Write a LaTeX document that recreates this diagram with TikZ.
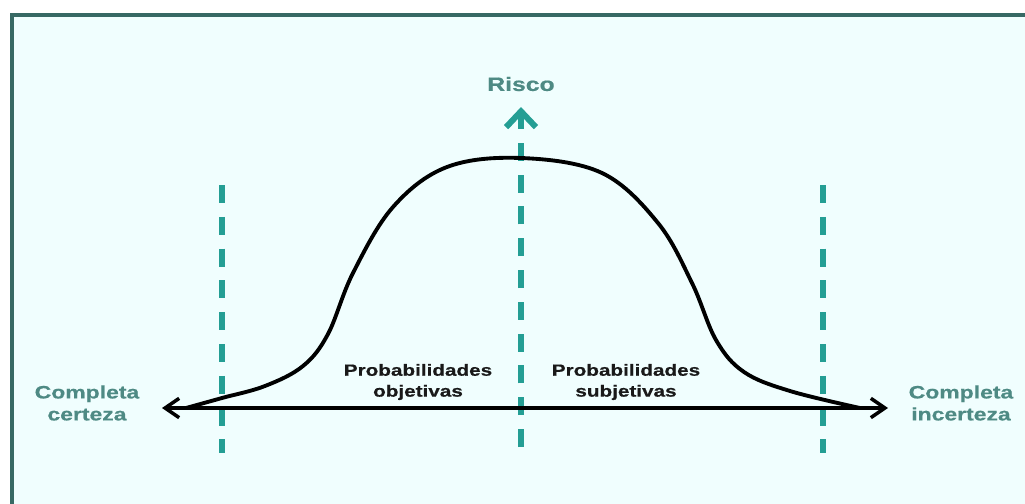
\documentclass[tikz,border=0pt]{standalone}
\usepackage{fontspec}
\usepackage{tikz}
\usetikzlibrary{arrows.meta}
\newfontfamily\riskfont[FakeStretch=1.28, FakeBold=0.6]{Liberation Sans}
\definecolor{frameclr} {RGB}{55, 105, 100}
\definecolor{paneclr}  {RGB}{240, 254, 254}
\definecolor{dashclr}  {RGB}{36, 158, 148}
\definecolor{labelclr} {RGB}{78, 138, 132}
\definecolor{darktext} {RGB}{25,  25,  25}

\begin{document}
\begin{tikzpicture}[x=0.02cm, y=-0.02cm,
    divider/.style={dashclr, line width=3.4pt, dash pattern=on 10.2pt off 7.9pt},
    endlabel/.style={labelclr, align=center, font=\riskfont\bfseries\fontsize{10.2}{12.5}\selectfont},
    zonelabel/.style={darktext, align=center, font=\riskfont\bfseries\fontsize{9.2}{11.9}\selectfont}]
  % page and frame
  \useasboundingbox (0,0) rectangle (1025,504);
  \fill[white] (0,0) rectangle (1025,504);
  \clip (0,0) rectangle (1025,504);
  \draw[frameclr, line width=2.2pt, fill=paneclr] (12,15) rectangle (1060,540);
  % axis ends
  \coordinate (certain) at (162,408);
  \coordinate (uncertain) at (888,408);
  \coordinate (riskbase) at (521,447);
  \coordinate (risktip) at (521,107);
  % dashed dividers
  \draw[divider] (222,185) -- (222,453);
  \draw[divider] (823,185) -- (823,453);
  \draw[divider, -{Straight Barb[length=9pt, width=17pt, line width=3.4pt]}]
    (riskbase) -- (risktip);
  % risk curve
  \draw[black, line width=2.2pt, line cap=round]
    plot[smooth, tension=0.6] coordinates {
      (186,408) (222,398) (265,386) (303,366) (328,334) (353,273)
      (393,207) (447,167) (521,158) (602,173) (658,223) (692,283)
      (716,340) (744,372) (790,391) (860,408)};
  % horizontal axis
  \draw[black, line width=2pt, {Straight Barb[length=8pt, width=11pt]}-{Straight Barb[length=8pt, width=11pt]}]
    (certain) -- (uncertain);
  % labels
  \node[endlabel, font=\riskfont\bfseries\fontsize{11}{13}\selectfont] (risk) at (521,84) {Risco};
  \node[endlabel] (certainlbl) at (87,403) {Completa\\certeza};
  \node[endlabel] (uncertainlbl) at (961,403) {Completa\\incerteza};
  \node[zonelabel] (objective) at (418,382) {Probabilidades\\objetivas};
  \node[zonelabel] (subjective) at (626,382) {Probabilidades\\subjetivas};
\end{tikzpicture}
\end{document}
